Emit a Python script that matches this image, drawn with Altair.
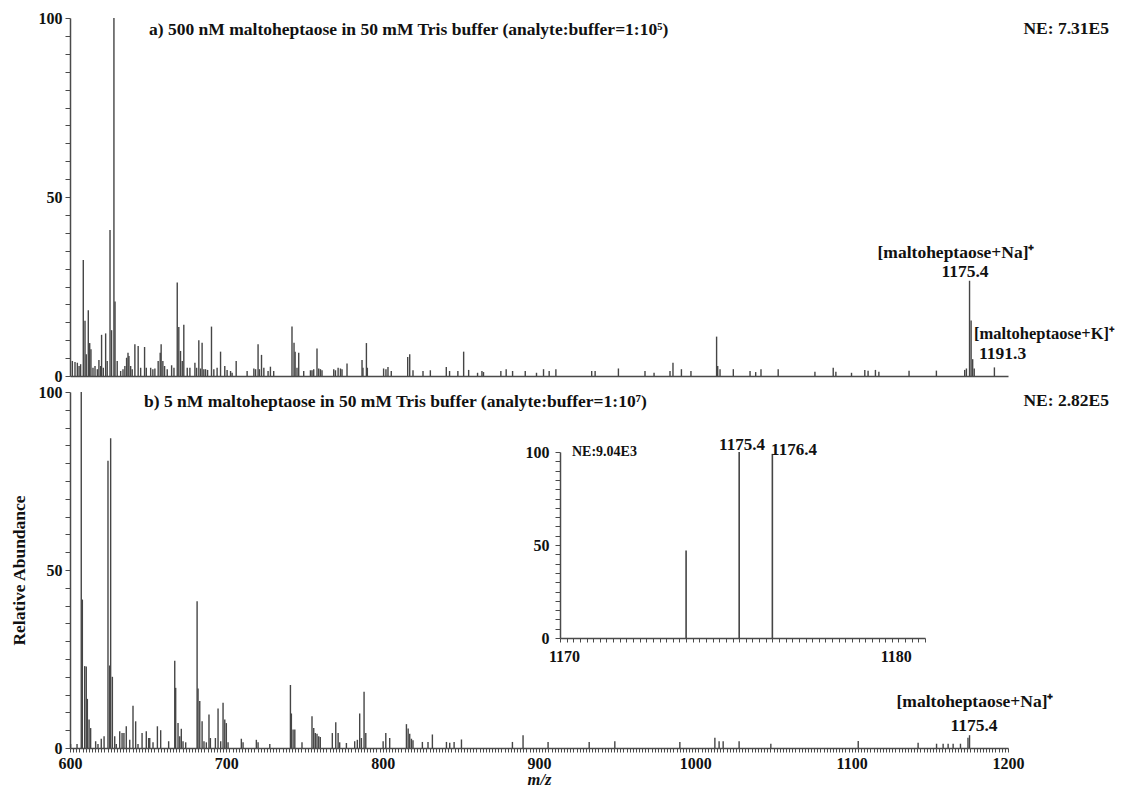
import altair as alt
import pandas as pd

# ---------------- data ----------------
a_mz = [601.5, 603.2, 604.7, 605.8, 606.8, 608.5, 609.6, 610.4, 611.7, 612.6, 613.4, 614.7, 616.0, 617.5,
        618.5, 619.6, 620.2, 621.3, 622.8, 623.8, 625.6, 626.6, 628.1, 628.8, 630.2, 632.4, 633.9, 635.1,
        636.2, 637.1, 637.7, 638.8, 639.8, 641.5, 643.6, 645.2, 647.7, 648.8, 651.6, 653.0, 654.3, 656.4,
        657.7, 658.3, 659.4, 660.5, 662.2, 665.0, 666.5, 668.6, 669.6, 670.7, 671.8, 672.8, 675.0, 676.7,
        679.9, 681.0, 682.4, 683.5, 684.5, 685.6, 686.7, 688.0, 690.5, 692.0, 694.1, 696.3, 699.0, 700.5,
        702.7, 703.7, 706.3, 713.3, 717.6, 718.7, 720.3, 721.2, 722.5, 724.0, 726.7, 728.2, 730.3, 742.0,
        743.3, 744.0, 745.2, 746.3, 749.5, 753.8, 754.8, 755.9, 758.0, 759.1, 760.2, 761.2, 768.7, 769.8,
        771.5, 773.0, 774.0, 777.2, 786.8, 787.4, 789.6, 790.2, 800.6, 802.1, 803.4, 805.5,
        816.0, 817.3, 819.4, 825.8, 830.5, 840.7, 842.8, 848.1, 851.8, 855.0, 860.7, 863.5, 864.5, 875.6,
        879.0, 883.1, 891.2, 898.4, 902.9, 906.5, 910.8, 933.7, 935.9, 950.8, 967.8, 973.6, 983.8, 985.7,
        991.1, 997.2, 1013.6, 1014.3, 1015.8, 1024.3, 1035.0, 1038.6, 1042.0, 1053.0,
        1076.5, 1088.2, 1089.9, 1099.9, 1108.4, 1110.5, 1115.2, 1117.4, 1136.7, 1154.2, 1172.3, 1173.4,
        1175.4, 1176.4, 1177.4, 1178.4, 1191.3]
a_ab = [4.2, 3.9, 3.7, 2.8, 3.3, 32.4, 15.4, 6.1, 18.4, 9.2, 7.5, 2.3, 2.8, 1.9,
        4.5, 2.8, 11.5, 2.3, 11.9, 4.2, 40.8, 12.8, 100.0, 20.8, 4.2, 1.4, 1.9, 2.8,
        5.1, 6.5, 5.6, 2.8, 1.9, 8.9, 8.4, 2.3, 8.1, 2.3, 2.3, 1.9, 2.1, 4.2,
        6.5, 8.9, 4.2, 2.8, 1.9, 3.0, 2.3, 26.1, 13.7, 7.0, 4.2, 14.3, 2.3, 2.3,
        3.7, 2.3, 10.0, 2.1, 9.3, 1.9, 1.9, 1.7, 13.8, 1.9, 2.3, 6.8, 2.8, 1.7,
        1.4, 0.9, 4.2, 1.4, 2.1, 1.9, 8.9, 1.9, 5.9, 2.3, 1.4, 2.6, 1.4, 13.8,
        9.3, 6.8, 2.3, 6.5, 1.4, 1.6, 1.6, 1.9, 7.7, 2.1, 1.9, 1.6, 1.9, 1.6,
        2.3, 2.1, 1.9, 3.5, 4.5, 2.3, 9.2, 2.3, 2.1, 1.9, 2.5, 1.4,
        5.3, 6.1, 1.6, 1.4, 1.6, 2.5, 1.4, 1.4, 6.8, 1.7, 0.9, 1.4, 1.1, 1.4,
        1.9, 1.4, 1.4, 0.9, 1.9, 1.4, 1.9, 1.4, 1.4, 2.1, 1.4, 0.9, 1.4, 3.7,
        1.9, 1.4, 11.0, 2.8, 1.9, 1.9, 1.4, 1.1, 1.9, 1.9,
        1.2, 2.3, 1.2, 0.9, 1.7, 1.5, 1.7, 1.2, 1.5, 1.5, 1.7, 2.1,
        26.6, 15.5, 4.7, 2.1, 2.4]

b_mz = [600.4, 604.5, 607.2, 607.9, 609.4, 610.4, 611.1, 612.2, 613.2, 616.4, 617.9, 620.0, 621.8, 624.3,
        625.4, 626.0, 627.1, 628.6, 629.6, 631.8, 633.3, 634.5, 636.0, 638.2, 640.3, 642.0, 643.5, 646.1,
        648.8, 650.3, 651.0, 653.1, 655.9, 658.0, 663.1, 667.0, 667.6, 669.1, 670.2, 671.2, 672.3, 674.0,
        681.3, 681.9, 683.0, 684.5, 685.7, 687.2, 688.9, 689.8, 693.0, 694.7, 696.4, 697.9, 699.0, 700.0,
        701.1, 709.6, 710.7, 719.2, 720.3, 727.8, 741.0, 741.6, 742.7, 743.8, 748.4, 754.8, 755.9, 756.9,
        758.0, 759.1, 760.1, 767.8, 770.0, 771.5, 772.5, 776.8, 782.1, 783.8, 785.3, 786.4, 788.1, 789.2,
        800.3, 802.0, 804.5,
        815.2, 816.3, 817.3, 818.4, 819.4, 825.4, 829.0, 831.8, 840.8, 842.9, 845.7, 850.4, 883.0, 889.8,
        905.8, 932.1, 948.5, 990.1, 1012.5, 1015.2, 1017.8, 1028.0, 1048.3,
        1104.2, 1142.5, 1154.3, 1158.5, 1161.7, 1164.9, 1169.6, 1174.4, 1175.4]
b_ab = [1.1, 1.1, 100.0, 41.7, 23.0, 22.9, 13.8, 8.0, 5.6, 1.9, 1.1, 2.6, 3.3, 80.7,
        23.2, 87.0, 20.0, 3.3, 1.1, 4.7, 4.2, 4.2, 6.1, 2.3, 11.9, 7.5, 1.1, 4.2,
        4.7, 2.8, 2.8, 1.6, 6.1, 5.0, 1.9, 24.5, 16.9, 7.0, 3.3, 5.4, 1.9, 1.6,
        41.2, 16.7, 13.2, 7.5, 1.9, 1.6, 9.4, 2.8, 2.8, 11.1, 1.9, 12.7, 8.0, 7.0,
        1.6, 2.6, 1.6, 2.3, 1.6, 1.1, 17.7, 9.7, 5.2, 5.2, 1.6, 8.9, 5.6, 4.2,
        4.0, 3.3, 3.1, 4.2, 7.2, 4.2, 1.6, 1.4, 1.9, 2.3, 9.7, 2.8, 15.8, 4.2,
        1.9, 4.2, 2.8,
        6.7, 5.5, 4.0, 2.6, 2.2, 1.7, 1.7, 3.8, 1.7, 1.5, 1.7, 2.4, 1.7, 3.6,
        1.7, 1.7, 1.9, 1.7, 2.9, 1.9, 1.9, 1.9, 1.2,
        2.0, 1.5, 1.2, 1.2, 1.2, 1.2, 1.2, 2.9, 3.6]

inset_mz = [1173.8, 1175.4, 1176.4]
inset_ab = [47.0, 100.0, 99.0]

main_y_ticks = list(range(0, 101, 5))
main_x_ticks = list(range(600, 1201, 2))
inset_x_ticks = [round(1170 + 0.2 * i, 1) for i in range(56)]

title_a = "a) 500 nM maltoheptaose in 50 mM Tris buffer (analyte:buffer=1:10\u2075)"
title_b = "b) 5 nM maltoheptaose in 50 mM Tris buffer (analyte:buffer=1:10\u2077)"
ne_a = "NE: 7.31E5"
ne_b = "NE: 2.82E5"
ne_inset = "NE:9.04E3"
na_label = "[maltoheptaose+Na]\u207a"
k_label = "[maltoheptaose+K]\u207a"
na_mz = "1175.4"
k_mz = "1191.3"
inset_labels = ["1175.4", "1176.4"]

# ---------------- styling ----------------
FONT = "Liberation Serif"
INK = "#111111"
PEAK = "#454545"
AX = "#4a4a4a"
W, HA, HB = 938, 358, 356
TS = 17.5  # text size of titles / annotations


def txt(s, x, y, size=TS, align="left", style="normal"):
    return alt.Chart(pd.DataFrame({"t": [s]})).mark_text(
        font=FONT, fontWeight="bold", fontSize=size, align=align, baseline="middle",
        fontStyle=style, color=INK
    ).encode(x=alt.value(x), y=alt.value(y), text="t:N")


def y_axis(title=None, orient="left", offset=0, pad=3):
    return alt.Axis(
        title=title, orient=orient, offset=offset, values=main_y_ticks,
        tickCount=len(main_y_ticks), tickMinStep=1, grid=False,
        labelExpr="datum.value % 50 === 0 ? format(datum.value, 'd') : ''",
        tickSize=5, labelOverlap=False, labelPadding=pad, titlePadding=10,
        titleFontSize=17.5,
    )


# ---------------- panel a ----------------
df_a = pd.DataFrame({"mz": a_mz, "ab": a_ab})
xa = alt.X("mz:Q", scale=alt.Scale(domain=[600, 1200], nice=False, zero=False),
           axis=alt.Axis(title=None, labels=False, ticks=False, grid=False))
ya = alt.Y("ab:Q", scale=alt.Scale(domain=[0, 100], nice=False), axis=y_axis())
peaks_a = alt.Chart(df_a).mark_rule(color=PEAK, strokeWidth=1.4).encode(x=xa, y=ya, y2=alt.datum(0))

panel_a = alt.layer(
    peaks_a,
    txt(title_a, 79, 12),
    txt(ne_a, 1039, 11, align="right"),
    txt(na_label, 886, 235, align="center"),
    txt(na_mz, 895, 254, align="center"),
    txt(k_label, 904, 316, size=16.5),
    txt(k_mz, 909, 336),
).properties(width=W, height=HA)

# ---------------- panel b ----------------
df_b = pd.DataFrame({"mz": b_mz, "ab": b_ab})
xb = alt.X("mz:Q", scale=alt.Scale(domain=[600, 1200], nice=False, zero=False),
           axis=alt.Axis(title="m/z", titleFontStyle="italic", titleFontSize=16.5,
                         values=main_x_ticks, tickCount=len(main_x_ticks), tickMinStep=1,
                         labelExpr="datum.value % 100 === 0 ? format(datum.value, 'd') : ''",
                         tickSize=4, labelFlush=False, labelOverlap=False, labelPadding=3,
                         titlePadding=0, grid=False))
yb = alt.Y("ab:Q", scale=alt.Scale(domain=[0, 100], nice=False), axis=y_axis("Relative Abundance"))
peaks_b = alt.Chart(df_b).mark_rule(color=PEAK, strokeWidth=1.4).encode(x=xb, y=yb, y2=alt.datum(0))

df_i = pd.DataFrame({"mz": inset_mz, "ab": inset_ab})
xi = alt.X("mz:Q", scale=alt.Scale(domain=[1170, 1181], range=[490, 855], nice=False, zero=False),
           axis=alt.Axis(orient="bottom", offset=-110, title=None, values=inset_x_ticks,
                         tickCount=len(inset_x_ticks), tickMinStep=0.1,
                         labelExpr="datum.value % 10 === 0 ? format(datum.value, 'd') : ''",
                         tickSize=4, labelFlush=False, labelOverlap=False, labelPadding=6,
                         labelOffset=4, grid=False))
yi = alt.Y("ab:Q", scale=alt.Scale(domain=[0, 100], range=[246, 60], nice=False),
           axis=y_axis(None, orient="left", offset=-490, pad=6))
peaks_i = alt.Chart(df_i).mark_rule(color=PEAK, strokeWidth=1.6).encode(x=xi, y=yi, y2=alt.datum(0))

panel_b = alt.layer(
    peaks_b,
    peaks_i,
    txt(title_b, 74, 10),
    txt(ne_b, 1039, 9, align="right"),
    txt(na_label, 905, 310, align="center"),
    txt(na_mz, 904, 334, align="center"),
    txt(ne_inset, 502, 60, size=14),
    txt(inset_labels[0], 672, 53, size=17, align="center"),
    txt(inset_labels[1], 724, 58, size=17, align="center"),
).resolve_scale(x="independent", y="independent").properties(width=W, height=HB)

chart = alt.vconcat(panel_a, panel_b, spacing=0).properties(
    padding={"left": 2, "top": 2, "right": 0, "bottom": 0}
).configure_view(stroke=None).configure_axis(
    grid=False, labelFont=FONT, labelFontWeight="bold", labelFontSize=16, labelColor=INK,
    titleFont=FONT, titleFontWeight="bold", titleColor=INK,
    domainColor=AX, tickColor=AX, domainWidth=1.5, tickWidth=1
)

chart.save("out.html", embed_options={"renderer": "svg", "actions": False})
